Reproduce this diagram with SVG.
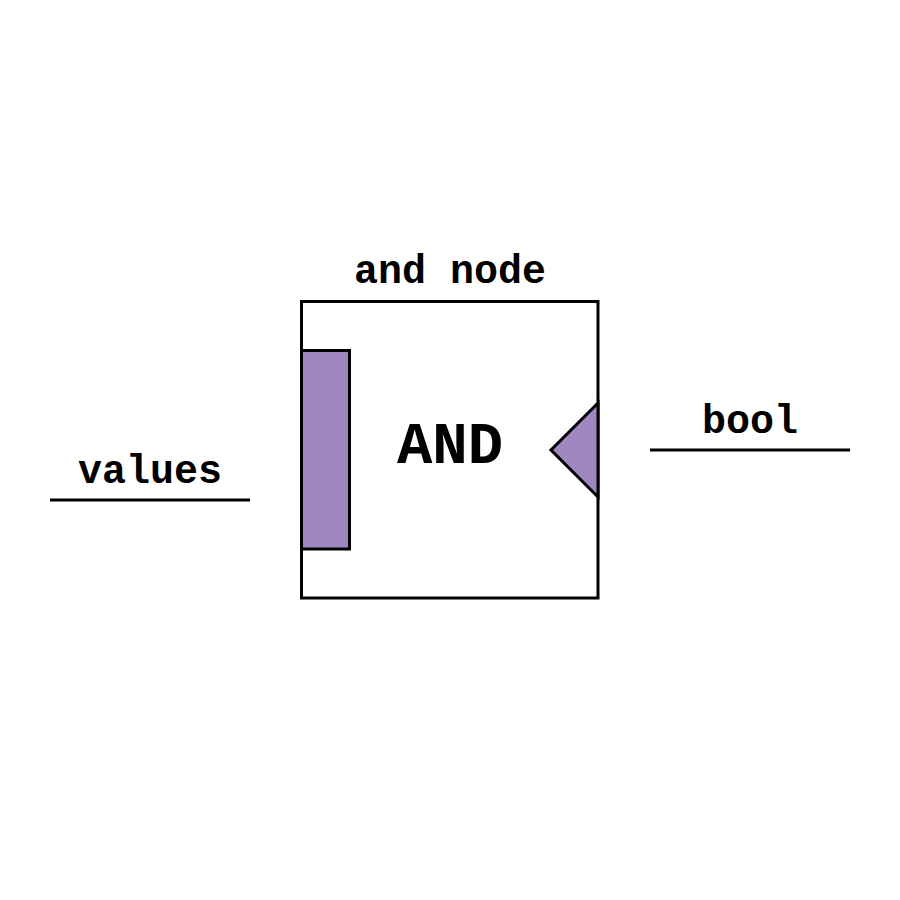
<svg xmlns="http://www.w3.org/2000/svg" width="900" height="900" viewBox="0 0 900 900">
<style>
.lbl{font-family:"Liberation Mono","Courier New",monospace;font-weight:bold;font-size:40px;text-anchor:middle;fill:#000}
.big{font-family:"Liberation Mono","Courier New",monospace;font-weight:bold;font-size:59px;text-anchor:middle;fill:#000}
.port{fill:#a087bf;stroke:#000;stroke-width:3}
.wire{stroke:#000;stroke-width:3;fill:none}
</style>
<rect width="900" height="900" fill="#fff"/>
<g id="and-node">
<text class="lbl" x="450" y="283">and node</text>
<rect x="301.5" y="301.5" width="296.5" height="296.5" fill="#fff" stroke="#000" stroke-width="3"/>
<rect class="port" x="301.5" y="350.5" width="48" height="198.5"/>
<polygon class="port" points="598,403 551,450 598,497"/>
<text class="big" x="450" y="463">AND</text>
</g>
<g id="connectors">
<g id="values">
<text class="lbl" x="150" y="483">values</text>
<line class="wire" x1="50" y1="500" x2="250" y2="500"/>
</g>
<g id="bool">
<text class="lbl" x="750" y="433">bool</text>
<line class="wire" x1="650" y1="450" x2="850" y2="450"/>
</g>
</g>
</svg>
